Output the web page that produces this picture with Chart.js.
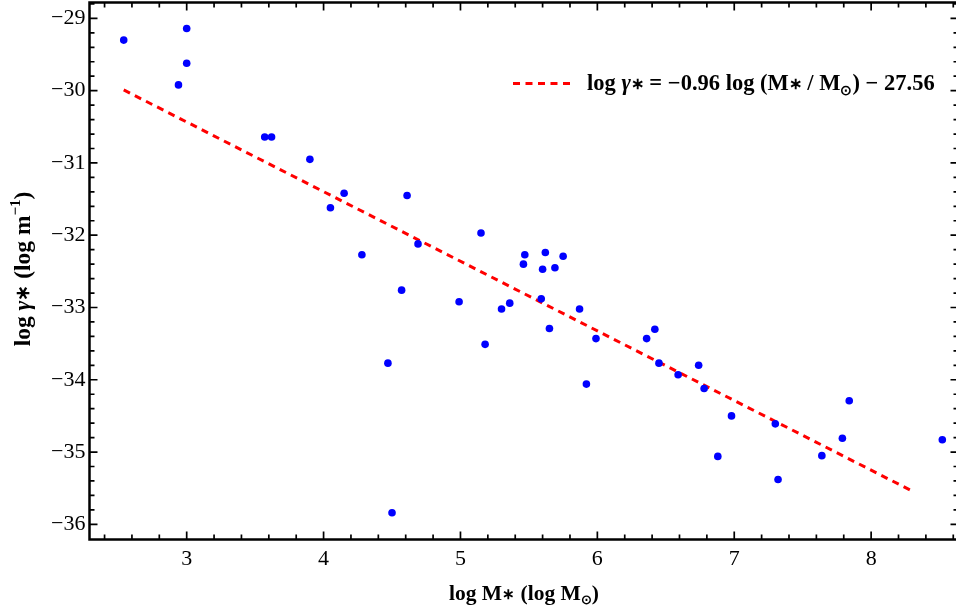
<!DOCTYPE html>
<html>
<head>
<meta charset="utf-8">
<script src="https://cdn.jsdelivr.net/npm/chart.js@4.4.1/dist/chart.umd.min.js"></script>
<style>
  html, body { margin: 0; padding: 0; background: #fff; }
  canvas { display: block; }
</style>
</head>
<body>
<canvas id="chart" width="956" height="611"></canvas>
<script>
// log M* values of the galaxies
const massValues = [
  2.54, 3.00, 3.00, 2.94, 3.57, 3.62, 3.90, 4.15, 4.05, 4.61,
  4.69, 5.15, 4.28, 5.47, 5.62, 5.75, 5.46, 5.60, 5.69, 4.57,
  4.99, 5.59, 5.30, 5.36, 5.87, 5.65, 5.99, 5.18, 4.47, 5.92,
  4.50, 6.36, 6.42, 6.45, 6.59, 6.74, 6.78, 6.98, 6.88, 7.30,
  7.32, 7.64, 7.79, 7.84, 8.52
];
// log gamma* values
const gammaValues = [
  -29.30, -29.14, -29.62, -29.92, -30.64, -30.64, -30.95, -31.42, -31.62, -31.45,
  -32.12, -31.97, -32.27, -32.27, -32.24, -32.29, -32.40, -32.47, -32.45, -32.76,
  -32.92, -32.88, -33.02, -32.94, -33.02, -33.29, -33.43, -33.51, -33.77, -34.06,
  -35.84, -33.43, -33.30, -33.77, -33.93, -33.80, -34.12, -34.50, -35.06, -34.61,
  -35.38, -35.05, -34.81, -34.29, -34.83
];
// fitted line end points
const fitX = [2.54, 8.30];
const fitY = [-29.99, -35.54];

const xTickLabels = [3, 4, 5, 6, 7, 8];
const yTickLabels = [-36, -35, -34, -33, -32, -31, -30, -29];

const legendText = 'log γ∗ = −0.96 log (M∗ / M⊙) − 27.56';

const font = (size, style) => (style || 'bold') + ' ' + size + 'px "Liberation Serif"';

function richText(ctx, parts, x, y, align) {
  let w = 0;
  parts.forEach(p => { ctx.font = p.font; w += ctx.measureText(p.t).width; });
  let cx = align === 'center' ? x - w / 2 : x;
  ctx.textAlign = 'left';
  ctx.textBaseline = 'alphabetic';
  parts.forEach(p => {
    ctx.font = p.font;
    ctx.fillText(p.t, cx, y + (p.dy || 0));
    cx += ctx.measureText(p.t).width;
  });
}

// split a label into parts: γ italic, ∗ smaller, ⊙ subscript, ^ superscript
function labelParts(text, size, supText, starScale) {
  const parts = [];
  let buf = '';
  const flush = () => { if (buf) parts.push({ t: buf, font: font(size) }); buf = ''; };
  for (const ch of text) {
    if (ch === 'γ') { flush(); parts.push({ t: ch, font: font(size, 'italic bold') }); }
    else if (ch === '∗') { flush(); parts.push({ t: ch, font: font(Math.round(size * (starScale || 0.7))), dy: -1 }); }
    else if (ch === '⊙') { flush(); parts.push({ t: ch, font: font(Math.round(size * 0.62)), dy: size * 0.2 }); }
    else if (ch === '^') { flush(); parts.push({ t: supText, font: font(Math.round(size * 0.62)), dy: -size * 0.42 }); }
    else buf += ch;
  }
  flush();
  return parts;
}

const framePlugin = {
  id: 'frame',
  afterDraw(chart) {
    const ctx = chart.ctx;
    const a = chart.chartArea;
    const xs = chart.scales.x;
    const ys = chart.scales.y;
    const right = a.right + 2.5;
    ctx.save();
    ctx.strokeStyle = '#000';

    // ticks, pointing inward on all four sides
    ctx.lineWidth = 1.7;
    ctx.beginPath();
    for (let i = 12; i <= 43; i++) {
      const v = i / 5;
      const px = xs.getPixelForValue(v);
      if (px <= a.left + 1 || px >= right - 1) continue;
      const len = Math.abs(v - Math.round(v)) < 1e-6 ? 8 : 5;
      ctx.moveTo(px, a.bottom); ctx.lineTo(px, a.bottom - len);
      ctx.moveTo(px, a.top); ctx.lineTo(px, a.top + len);
    }
    for (let i = -181; i <= -144; i++) {
      const v = i / 5;
      const py = ys.getPixelForValue(v);
      if (py <= a.top + 1 || py >= a.bottom - 1) continue;
      const len = Math.abs(v - Math.round(v)) < 1e-6 ? 8 : 5;
      ctx.moveTo(a.left, py); ctx.lineTo(a.left + len, py);
      ctx.moveTo(right, py); ctx.lineTo(right - len, py);
    }
    ctx.stroke();

    // frame
    ctx.lineWidth = 2.5;
    ctx.strokeRect(a.left, a.top, right - a.left, a.bottom - a.top);

    // legend
    ctx.strokeStyle = '#ff0000';
    ctx.lineWidth = 3;
    ctx.setLineDash([7, 5.5]);
    ctx.beginPath();
    ctx.moveTo(513, 83.5);
    ctx.lineTo(571, 83.5);
    ctx.stroke();
    ctx.setLineDash([]);
    ctx.fillStyle = '#000';
    richText(ctx, labelParts(legendText, 22.5), 587, 90, 'left');

    // x axis title
    richText(ctx, labelParts('log M∗ (log M⊙)', 21.5), (a.left + right) / 2, 600, 'center');

    // y axis title
    ctx.translate(30, (a.top + a.bottom) / 2 - 2);
    ctx.rotate(-Math.PI / 2);
    richText(ctx, labelParts('log γ∗ (log m^)', 23.5, '−1', 0.8), 0, 0, 'center');
    ctx.restore();
  }
};

const minus = v => String(v).replace('-', '\u2212');

new Chart(document.getElementById('chart'), {
  type: 'scatter',
  data: {
    datasets: [
      {
        label: 'data',
        data: massValues.map((m, i) => ({ x: m, y: gammaValues[i] })),
        backgroundColor: '#0000ff',
        borderWidth: 0,
        pointRadius: 3.8,
      },
      {
        type: 'line',
        label: legendText,
        data: fitX.map((m, i) => ({ x: m, y: fitY[i] })),
        borderColor: '#ff0000',
        borderWidth: 3,
        borderDash: [7, 5.5],
        pointRadius: 0,
        fill: false,
      },
    ],
  },
  options: {
    responsive: false,
    animation: false,
    layout: { autoPadding: false, padding: { top: 2.5, right: 0, left: 0, bottom: 0 } },
    plugins: {
      legend: { display: false },
      tooltip: { enabled: false },
    },
    scales: {
      x: {
        type: 'linear',
        min: 2.29,
        max: 8.62,
        afterBuildTicks: s => { s.ticks = xTickLabels.map(v => ({ value: v })); },
        afterFit: s => { s.height = 71.5; s.paddingLeft = 0; s.paddingRight = 0; },
        grid: { display: false, drawTicks: false },
        border: { display: false },
        ticks: {
          color: '#000',
          padding: 7,
          maxRotation: 0,
          font: { family: '"Liberation Serif"', size: 22 },
          callback: minus,
        },
      },
      y: {
        type: 'linear',
        min: -36.21,
        max: -28.78,
        afterBuildTicks: s => { s.ticks = yTickLabels.map(v => ({ value: v })); },
        afterFit: s => { s.width = 89.5; s.paddingTop = 0; s.paddingBottom = 0; },
        grid: { display: false, drawTicks: false },
        border: { display: false },
        ticks: {
          color: '#000',
          padding: 4,
          font: { family: '"Liberation Serif"', size: 22 },
          callback: minus,
        },
      },
    },
  },
  plugins: [framePlugin],
});
</script>
</body>
</html>
